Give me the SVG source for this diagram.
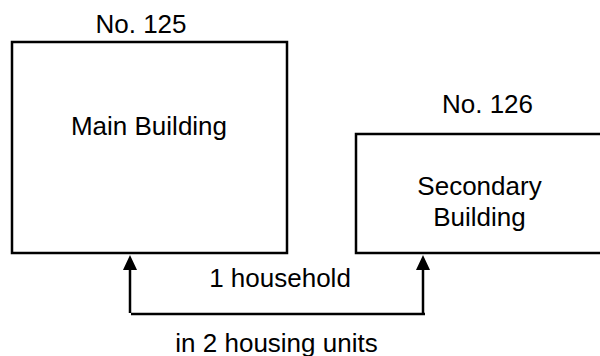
<svg xmlns="http://www.w3.org/2000/svg" width="600" height="356" viewBox="0 0 600 356">
<defs>
<style>
.box{fill:#fff;stroke:#000;stroke-width:2.5}
.t{font-family:"Liberation Sans",Arial,sans-serif;font-size:26px;fill:#000;text-anchor:middle}
.c{fill:none;stroke:#000;stroke-width:2.5}
.ah{fill:#000}
</style>
</defs>
<rect width="600" height="356" fill="#fff"/>
<g id="main-building">
<rect class="box" x="12" y="42" width="275" height="211"/>
<text class="t" x="141" y="33">No. 125</text>
<text class="t" x="149" y="135">Main Building</text>
</g>
<g id="secondary-building">
<rect class="box" x="356" y="134" width="260" height="119"/>
<text class="t" x="487.5" y="113">No. 126</text>
<text class="t" x="479.5" y="195">Secondary</text>
<text class="t" x="479.5" y="226">Building</text>
</g>
<g id="connectors">
<path class="c" d="M130,313 L130,269"/>
<path class="ah" d="M123,270 L130,255 L137,270 Z"/>
<path class="c" d="M131,314 L425,314"/>
<path class="c" d="M423,313 L423,269"/>
<path class="ah" d="M416,270 L423,255 L430,270 Z"/>
<text class="t" x="280" y="286.5">1 household</text>
<text class="t" x="276.5" y="351.5">in 2 housing units</text>
</g>
</svg>
